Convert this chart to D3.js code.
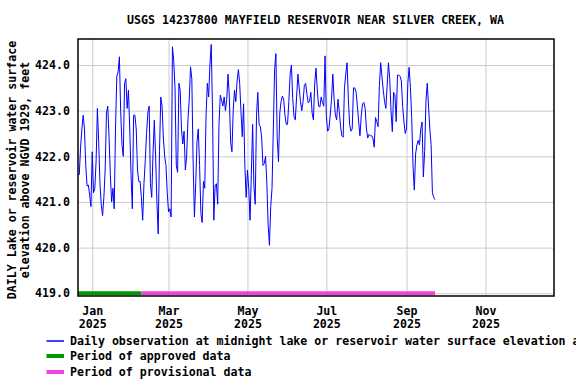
<!DOCTYPE html>
<html>
<head>
<meta charset="utf-8">
<script src="https://d3js.org/d3.v7.min.js"></script>
<style>
  body { margin: 0; background: #fff; }
  svg text { font-family: "DejaVu Sans Mono", "Liberation Mono", monospace; font-weight: bold; fill: #000; }
</style>
</head>
<body>
<svg id="chart" width="576" height="384"></svg>
<script>
// daily lake elevation, starting 2024-12-21
const startDay = "2024-12-21";
const levels = [
  421.6, 421.6, 422.2, 422.6, 422.9, 422.6, 421.8, 421.35, 421.37, 421.15,
  420.9, 422.1, 421.2, 421.3, 421.9, 423.05, 422.3, 421.4, 420.93, 420.7,
  421.1, 421.7, 422.95, 423.1, 422.43, 421.6, 421.0, 421.3, 420.85, 422.6,
  423.75, 423.85, 424.18, 422.98, 422.25, 422.0, 423.6, 423.7, 423.05, 423.45,
  422.6, 421.6, 420.85, 422.9, 422.9, 422.6, 421.7, 421.45, 421.45, 421.1,
  420.6, 421.4, 421.9, 422.5, 422.95, 423.1, 421.4, 421.1, 422.06, 422.79,
  422.0, 421.0, 420.3, 422.1, 423.3, 423.1, 422.4, 422.0, 421.8, 421.2,
  420.78, 420.85, 420.67, 424.4, 424.1, 423.5, 421.8, 421.65, 423.6, 423.45,
  422.6, 422.27, 422.55, 421.7, 422.0, 422.8, 423.25, 423.96, 423.7, 421.9,
  420.67, 421.4, 422.32, 422.6, 421.8, 420.75, 420.55, 421.45, 421.3, 422.9,
  423.6, 423.3, 424.0, 424.45, 423.0, 420.6, 421.35, 421.4, 420.95, 422.7,
  423.34, 423.23, 423.1, 423.3, 423.0, 423.25, 423.8, 423.3, 422.3, 422.1,
  423.0, 423.45, 423.2, 423.65, 423.9, 423.6, 422.98, 422.43, 423.15, 421.8,
  421.1, 421.7, 421.3, 420.6, 421.6, 422.7, 421.35, 420.95, 422.9, 423.4,
  422.7, 422.65, 422.4, 421.8, 421.84, 422.0, 421.4, 420.5, 420.05, 420.9,
  421.3, 422.6, 423.9, 424.25, 422.4, 421.88, 422.95, 423.2, 423.32, 423.25,
  422.9, 422.7, 422.7, 423.2, 423.8, 424.0, 423.27, 422.87, 422.8, 423.3,
  423.8, 423.5, 423.2, 423.0, 423.2, 423.55, 423.6, 423.35, 423.17, 423.2,
  423.4, 422.95, 422.8, 423.6, 423.93, 423.45, 423.1, 423.08, 423.3, 423.18,
  423.1, 424.2, 422.87, 422.55, 422.6, 422.9, 423.25, 423.8, 423.25, 422.9,
  422.8, 423.25, 422.98, 422.65, 422.45, 422.42, 423.5, 423.8, 424.05, 423.27,
  422.7, 422.55, 422.6, 423.5, 423.5, 423.4, 423.1, 422.75, 422.45, 422.9,
  423.15, 423.18, 423.05, 422.6, 422.4, 422.48, 422.45, 422.45, 422.4, 422.2,
  422.85, 422.76, 422.65, 423.55, 424.05, 423.75, 423.45, 423.2, 423.05, 423.55,
  424.05, 423.7, 423.0, 422.54, 423.4, 423.35, 422.76, 423.78, 423.78, 423.75,
  423.65, 423.09, 422.75, 422.5, 422.6, 423.6, 423.95, 423.5, 422.85, 421.8,
  421.26, 422.05, 422.25, 422.35, 422.25, 422.6, 422.75, 421.55, 422.1, 423.2,
  423.6, 423.1, 422.6, 422.25, 421.2, 421.1, 421.05
];
const approvedPeriod = ["2024-12-21", "2025-02-08"];
const provisionalPeriod = ["2025-02-08", "2025-09-23"];
const yTicks = [419, 420, 421, 422, 423, 424];
const xTicks = ["2025-01-01", "2025-03-01", "2025-05-01", "2025-07-01", "2025-09-01", "2025-11-01"];
const legendLabels = [
  "Daily observation at midnight lake or reservoir water surface elevation above NGVD 1929, feet",
  "Period of approved data",
  "Period of provisional data"
];

const svg = d3.select("#chart");
const m = { left: 78, right: 554, top: 39, bottom: 296 };
const parse = d3.utcParse("%Y-%m-%d");
const day0 = parse(startDay);
const data = levels.map((v, i) => ({ date: d3.utcDay.offset(day0, i), value: v }));

const x = d3.scaleUtc().domain([parse("2024-12-21"), parse("2025-12-24")]).range([m.left, m.right]);
const y = d3.scaleLinear().domain([418.94, 424.57]).range([m.bottom, m.top]);

// title
svg.append("text").attr("x", 315.5).attr("y", 24).attr("text-anchor", "middle")
  .style("font-size", "11.6px")
  .text("USGS 14237800 MAYFIELD RESERVOIR NEAR SILVER CREEK, WA");

// grid + labels
const yAxis = svg.append("g").attr("transform", `translate(${m.left},0)`)
  .call(d3.axisLeft(y).tickValues(yTicks).tickSize(-(m.right - m.left)).tickPadding(8).tickFormat(d3.format(".1f")));
yAxis.select(".domain").remove();
yAxis.selectAll("line").attr("stroke", "#cccccc");
yAxis.selectAll("text").style("font-size", "11.6px");

const xAxis = svg.append("g").attr("transform", `translate(0,${m.bottom})`)
  .call(d3.axisBottom(x).tickValues(xTicks.map(parse)).tickSize(-(m.bottom - m.top)).tickFormat(""));
xAxis.select(".domain").remove();
xAxis.selectAll("line").attr("stroke", "#cccccc");
xAxis.selectAll(".tick").each(function(d) {
  const t = d3.select(this).append("text").attr("text-anchor", "middle").style("font-size", "11.6px");
  t.append("tspan").attr("x", 0).attr("y", 18.5).text(d3.utcFormat("%b")(d));
  t.append("tspan").attr("x", 0).attr("y", 31.5).text(d3.utcFormat("%Y")(d));
});

// approval bars
svg.append("line")
  .attr("x1", x(parse(approvedPeriod[0]))).attr("x2", x(parse(approvedPeriod[1])))
  .attr("y1", y(419)).attr("y2", y(419))
  .attr("stroke", "#009900").attr("stroke-width", 4);
svg.append("line")
  .attr("x1", x(parse(provisionalPeriod[0]))).attr("x2", x(parse(provisionalPeriod[1])))
  .attr("y1", y(419)).attr("y2", y(419))
  .attr("stroke", "#ee44dd").attr("stroke-width", 4);

// data line
svg.append("path").datum(data)
  .attr("fill", "none").attr("stroke", "#0000ff").attr("stroke-width", 1)
  .attr("d", d3.line().x(d => x(d.date)).y(d => y(d.value)));

// frame
svg.append("rect").attr("x", m.left).attr("y", m.top).attr("width", m.right - m.left).attr("height", m.bottom - m.top)
  .attr("fill", "none").attr("stroke", "#000").attr("stroke-width", 1.5);

// y title
const yt = svg.append("text").attr("transform", "translate(16,170) rotate(-90)")
  .attr("text-anchor", "middle").style("font-size", "11.6px");
yt.append("tspan").attr("x", 0).attr("y", 0).text("DAILY Lake or reservoir water surface");
yt.append("tspan").attr("x", 0).attr("y", 13).text("elevation above NGVD 1929, feet");

// legend
const legend = svg.append("g");
const swatch = [
  { color: "#0000ff", w: 1.5 },
  { color: "#009900", w: 4 },
  { color: "#ee44dd", w: 4 }
];
const legendY = [341, 356, 372];
legendLabels.forEach((lab, i) => {
  const ly = legendY[i];
  legend.append("line").attr("x1", 46.5).attr("x2", 64).attr("y1", ly).attr("y2", ly)
    .attr("stroke", swatch[i].color).attr("stroke-width", swatch[i].w);
  legend.append("text").attr("x", 70).attr("y", ly + 4).style("font-size", "11.6px").text(lab);
});
</script>
</body>
</html>
